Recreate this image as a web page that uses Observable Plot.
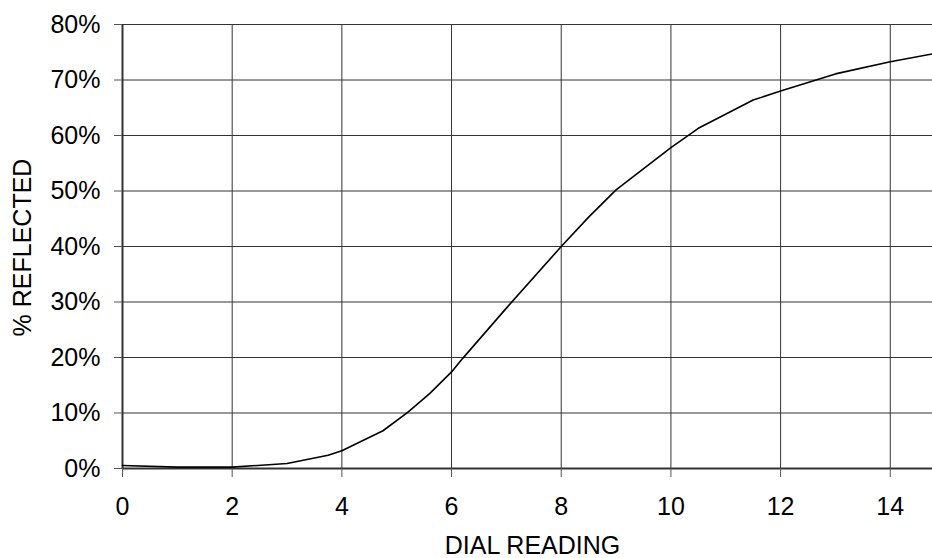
<!DOCTYPE html>
<html>
<head>
<meta charset="utf-8">
<script src="https://cdn.jsdelivr.net/npm/d3@7"></script>
<script src="https://cdn.jsdelivr.net/npm/@observablehq/plot@0.6"></script>
<style>
  html, body { margin: 0; padding: 0; background: #fff; }
  #chart { width: 932px; height: 558px; }
</style>
</head>
<body>
<div id="chart"></div>
<script>
// Data
const dialReading = [0, 1, 2, 3, 3.75, 4, 4.75, 5.2, 5.6, 6, 6.2, 7, 8, 8.5, 9, 10, 10.5, 11.5, 12, 13, 14, 14.77];
const pctReflected = [0.55, 0.25, 0.25, 0.9, 2.4, 3.2, 6.8, 10.1, 13.5, 17.4, 19.8, 28.9, 40, 45.3, 50.2, 57.8, 61.3, 66.4, 68, 71.1, 73.3, 74.7];
const xTicks = [0, 2, 4, 6, 8, 10, 12, 14];
const yTicks = [0, 10, 20, 30, 40, 50, 60, 70, 80];
const xTitle = "DIAL READING";
const yTitle = "% REFLECTED";

const data = dialReading.map((d, i) => ({x: d, y: pctReflected[i]}));

const font = "'Liberation Sans', Arial, Helvetica, sans-serif";

const chart = Plot.plot({
  width: 932,
  height: 558,
  marginLeft: 122,
  marginRight: 0,
  marginTop: 24,
  marginBottom: 90,
  style: {fontFamily: font, fontSize: "25px", color: "#000", background: "#fff", overflow: "visible"},
  x: {domain: [0, 14.77]},
  y: {domain: [0, 80]},
  marks: [
    Plot.gridX(xTicks, {stroke: "#333", strokeOpacity: 1, strokeWidth: 1}),
    Plot.gridY(yTicks, {stroke: "#333", strokeOpacity: 1, strokeWidth: 1}),
    Plot.ruleY([0], {stroke: "#333", strokeWidth: 2}),
    Plot.ruleX([0], {stroke: "#333", strokeWidth: 2}),
    Plot.axisX(xTicks, {tickSize: 9, tickPadding: 20, label: null, fontSize: 25, stroke: "#555"}),
    Plot.axisY(yTicks, {tickSize: 8, tickPadding: 14, label: null, fontSize: 25, tickFormat: d => d + "%", stroke: "#555"}),
    Plot.line(data, {x: "x", y: "y", stroke: "#000", strokeWidth: 1.6}),
    Plot.text([xTitle], {frameAnchor: "bottom", textAnchor: "middle", dx: 5, dy: 77, fontSize: 25, fill: "#000", lineAnchor: "middle"}),
    Plot.text([yTitle], {frameAnchor: "left", textAnchor: "middle", dx: -100, dy: 1, rotate: -90, fontSize: 25, fill: "#000", lineAnchor: "middle"})
  ]
});
document.getElementById("chart").appendChild(chart);
</script>
</body>
</html>
